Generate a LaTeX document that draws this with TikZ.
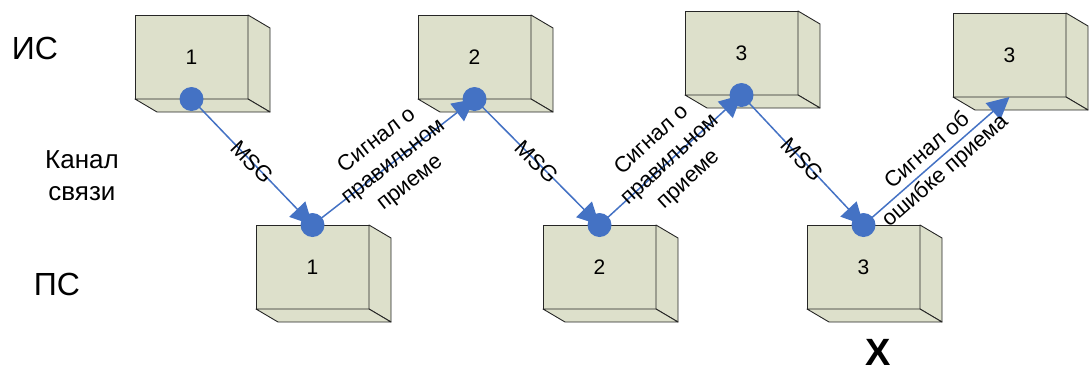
\documentclass[tikz,border=0pt]{standalone}
\usepackage{fontspec}
\setmainfont{Liberation Sans}
\usetikzlibrary{arrows.meta}
\definecolor{boxfill}{RGB}{221,224,203}
\definecolor{linkblue}{RGB}{68,114,196}
\tikzset{
  x=1pt, y=-1pt,
  front/.style={draw=black!85, line width=0.9pt, fill=boxfill,
    minimum width=113pt, minimum height=84pt, inner sep=0pt, outer sep=0pt,
    anchor=north west, font=\fontsize{21}{24}\selectfont},
  face/.style={draw=black!85, line width=0.9pt, fill=boxfill, line join=round},
  link/.style={linkblue, line width=1.5pt, -{Triangle[length=22pt,width=22pt]}},
  dot/.style={circle, fill=linkblue, minimum size=24pt, inner sep=0pt},
  lbl/.style={sloped, font=\fontsize{22}{27}\selectfont, align=center, inner sep=0pt, text=black},
  sidelbl/.style={font=\fontsize{26}{32}\selectfont, align=center, inner sep=0pt},
  rowlbl/.style={font=\fontsize{32}{32}\selectfont, inner sep=0pt}
}
% right and bottom faces of a box whose front face is node #1
\newcommand\boxsides[1]{%
  \draw[face] (#1.north east) -- ++(22,13) -- ++(0,84) -- (#1.south east) -- cycle;
  \draw[face] (#1.south west) -- ++(22,13) -- ++(113,0) -- (#1.south east) -- cycle;
}
\begin{document}
\begin{tikzpicture}
\useasboundingbox (0,0) rectangle (1089,376);

% row labels
\node[rowlbl] (is) at (35,48) {ИС};
\node[sidelbl] (kanal) at (82,176) {Канал\\связи};
\node[rowlbl] (ps) at (57,284) {ПС};

% sender boxes (top row)
\node[front] (t1) at (135,15) {1};
\node[front] (t2) at (418,15) {2};
\node[front] (t3) at (685,11) {3};
\node[front] (t4) at (953,13) {3};
% receiver boxes (bottom row)
\node[front] (b1) at (256,225) {1};
\node[front] (b2) at (543,225) {2};
\node[front] (b3) at (807,225) {3};
\boxsides{t1}\boxsides{t2}\boxsides{t3}\boxsides{t4}
\boxsides{b1}\boxsides{b2}\boxsides{b3}

% contact points
\coordinate (p1) at (t1.south);
\coordinate (q1) at (b1.north);
\coordinate (p2) at (t2.south);
\coordinate (q2) at (b2.north);
\coordinate (p3) at (t3.south);
\coordinate (q3) at (b3.north);

% messages and acknowledgements
\draw[link] (p1) -- node[lbl]{MSG} (q1);
\draw[link] (q1) -- node[lbl]{Сигнал о\\правильном\\приеме} (p2);
\draw[link] (p2) -- node[lbl]{MSG} (q2);
\draw[link] (q2) -- node[lbl]{Сигнал о\\правильном\\приеме} (p3);
\draw[link] (p3) -- node[lbl]{MSG} (q3);
\draw[link] (q3) -- node[lbl]{Сигнал об\\ошибке приема} (t4.south);

\node[dot] (d1) at (p1) {};
\node[dot] (e1) at (q1) {};
\node[dot] (d2) at (p2) {};
\node[dot] (e2) at (q2) {};
\node[dot] (d3) at (p3) {};
\node[dot] (e3) at (q3) {};

\node[font=\fontsize{38}{38}\bfseries, inner sep=0pt] (err) at (878,352) {X};
\end{tikzpicture}
\end{document}
